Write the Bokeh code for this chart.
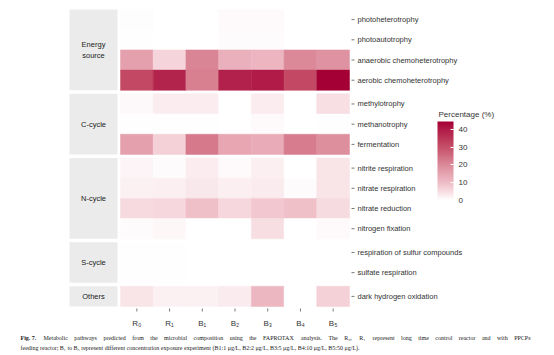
import numpy as np
from bokeh.plotting import figure
from bokeh.models import Range1d, FixedTicker, ColorBar, LinearColorMapper, ColumnDataSource
from bokeh.transform import transform
from bokeh.core.properties import value
from bokeh.embed import file_html
from bokeh.resources import INLINE

# ---------------- data ----------------
samples = ["R\u2080", "R\u2081", "B\u2081", "B\u2082", "B\u2083", "B\u2084", "B\u2085"]
groups = ["Energy\nsource", "C-cycle", "N-cycle", "S-cycle", "Others"]
group_functions = [
    ["photoheterotrophy", "photoautotrophy", "anaerobic chemoheterotrophy", "aerobic chemoheterotrophy"],
    ["methylotrophy", "methanotrophy", "fermentation"],
    ["nitrite respiration", "nitrate respiration", "nitrate reduction", "nitrogen fixation"],
    ["respiration of sulfur compounds", "sulfate respiration"],
    ["dark hydrogen oxidation"],
]

photoheterotrophy = [0.5, 0.0, 0.0, 0.7, 0.7, 0.0, 0.0]
photoautotrophy = [0.2, 0.0, 0.0, 0.6, 0.6, 0.0, 0.0]
anaerobic_chemoheterotrophy = [15.6, 6.3, 21.0, 12.4, 11.4, 20.5, 18.5]
aerobic_chemoheterotrophy = [31.5, 38.5, 22.0, 39.0, 40.0, 31.5, 44.5]
methylotrophy = [1.2, 2.8, 2.8, 0.0, 2.8, 0.0, 4.8]
methanotrophy = [0.2, 0.2, 0.2, 0.0, 0.8, 0.0, 0.2]
fermentation = [15.6, 7.0, 23.0, 14.5, 13.5, 22.5, 19.0]
nitrite_respiration = [1.6, 0.6, 2.8, 1.0, 2.6, 0.0, 4.0]
nitrate_respiration = [2.4, 2.6, 3.6, 2.6, 3.0, 0.6, 4.0]
nitrate_reduction = [5.7, 6.0, 9.4, 6.0, 8.5, 9.4, 5.4]
nitrogen_fixation = [0.6, 1.3, 0.0, 0.0, 5.0, 0.0, 0.7]
respiration_of_sulfur_compounds = [0.3, 0.3, 0.0, 0.0, 0.0, 0.0, 0.0]
sulfate_respiration = [0.3, 0.3, 0.0, 0.0, 0.0, 0.0, 0.0]
dark_hydrogen_oxidation = [4.0, 2.4, 2.4, 3.0, 11.0, 0.0, 7.0]

values_by_function = {
    "photoheterotrophy": photoheterotrophy,
    "photoautotrophy": photoautotrophy,
    "anaerobic chemoheterotrophy": anaerobic_chemoheterotrophy,
    "aerobic chemoheterotrophy": aerobic_chemoheterotrophy,
    "methylotrophy": methylotrophy,
    "methanotrophy": methanotrophy,
    "fermentation": fermentation,
    "nitrite respiration": nitrite_respiration,
    "nitrate respiration": nitrate_respiration,
    "nitrate reduction": nitrate_reduction,
    "nitrogen fixation": nitrogen_fixation,
    "respiration of sulfur compounds": respiration_of_sulfur_compounds,
    "sulfate respiration": sulfate_respiration,
    "dark hydrogen oxidation": dark_hydrogen_oxidation,
}

colorbar_ticks = [0, 10, 20, 30, 40]
legend_title = "Percentage (%)"
caption_bold = "Fig. 7."
caption_line1 = ("Metabolic pathways predicted from the microbial composition using the FAPROTAX analysis. "
                 "The R\u2080, R\u2081 represent long time control reactor and with PPCPs")
caption_line2 = ("feeding reactor; B\u2081 to B\u2085 represent different concentration exposure experiment "
                 "(B1:1 \u03bcg/L, B2:2 \u03bcg/L, B3:5 \u03bcg/L, B4:10 \u03bcg/L, B5:50 \u03bcg/L).")

# ---------------- palette (white -> crimson, stops as fraction of range) ----------------
stops = [(0.0, "#ffffff"), (0.225, "#efbcc6"), (0.45, "#dc8a9a"),
         (0.675, "#c65068"), (0.9, "#b01c48"), (1.0, "#a50035")]

def _rgb(h):
    return np.array([int(h[i:i + 2], 16) for i in (1, 3, 5)], dtype=float)

palette = []
for t in np.linspace(0, 1, 256):
    for (t0, c0), (t1, c1) in zip(stops[:-1], stops[1:]):
        if t0 <= t <= t1:
            f = (t - t0) / (t1 - t0)
            c = _rgb(c0) + (_rgb(c1) - _rgb(c0)) * f
            palette.append("#%02x%02x%02x" % tuple(int(round(v)) for v in c))
            break

all_vals = [v for vals in values_by_function.values() for v in vals]
mapper = LinearColorMapper(palette=palette, low=min(all_vals), high=max(all_vals))

# ---------------- geometry ----------------
GAP = 0.175
xs, ys, vs = [], [], []
row_centers, row_names = [], []
panel_spans = []
row = 0
for gi, funcs in enumerate(group_functions):
    top = row + GAP * gi
    for fn in funcs:
        yc = row + GAP * gi + 0.5
        row_centers.append(yc)
        row_names.append(fn)
        for ci, v in enumerate(values_by_function[fn]):
            xs.append(ci)
            ys.append(yc)
            vs.append(v)
        row += 1
    panel_spans.append((top, row + GAP * gi))
total_h = row + GAP * (len(group_functions) - 1)

W, H = 554, 355
HEAT_L, HEAT_R, HEAT_T, HEAT_B = 120, 349, 9, 306
PX = (HEAT_R - HEAT_L) / len(samples)      # pixels per column
PY = (HEAT_B - HEAT_T) / total_h           # pixels per row unit

def dx(px):
    return -0.5 + (px - HEAT_L) / PX

def dy(py):
    return (py - HEAT_T) / PY

p = figure(width=W, height=H, output_backend="svg", toolbar_location=None,
           x_range=Range1d(dx(0), dx(W)), y_range=Range1d(dy(H), dy(0)),
           min_border=0, x_axis_location=None, y_axis_location=None)
p.outline_line_color = None
p.grid.visible = False
p.background_fill_color = "white"
p.border_fill_color = "white"

src = ColumnDataSource(dict(x=xs, y=ys, v=vs))
p.rect(x="x", y="y", width=1, height=1, source=src,
       fill_color=transform("v", mapper), line_color=transform("v", mapper), line_width=0.5)

FONT = value("Liberation Sans")

# facet strips
sl, sr = dx(69), dx(117)
strip_src = ColumnDataSource(dict(
    x=[(sl + sr) / 2] * len(groups),
    y=[(a + b) / 2 for a, b in panel_spans],
    h=[b - a for a, b in panel_spans],
    t=groups))
p.rect(x="x", y="y", width=sr - sl, height="h", source=strip_src, fill_color="#ebebeb", line_color=None)
p.text(x="x", y="y", text="t", source=strip_src, text_align="center", text_baseline="middle",
       text_font=FONT, text_font_size="7.5px", text_color="#1a1a1a", text_line_height=1.25)

# right row labels with tick marks
n = len(row_names)
lab_src = ColumnDataSource(dict(y=row_centers, t=row_names,
                                x0=[dx(351)] * n, x1=[dx(354)] * n, xt=[dx(357)] * n))
p.segment(x0="x0", y0="y", x1="x1", y1="y", source=lab_src, line_color="#555555", line_width=0.8)
p.text(x="xt", y="y", text="t", source=lab_src, text_align="left", text_baseline="middle",
       text_font=FONT, text_font_size="7.5px", text_color="#333333")

# bottom sample ticks and labels
m = len(samples)
xl_src = ColumnDataSource(dict(x=list(range(m)), t=samples,
                               y0=[dy(308)] * m, y1=[dy(311)] * m, yt=[dy(322.5)] * m))
p.segment(x0="x", y0="y0", x1="x", y1="y1", source=xl_src, line_color="#555555", line_width=0.8)
p.text(x="x", y="yt", text="t", source=xl_src, text_align="center", text_baseline="middle",
       text_font=FONT, text_font_size="8px", text_color="#333333")

# colorbar
p.text(x=[dx(438)], y=[dy(114)], text=[legend_title], text_align="left", text_baseline="middle",
       text_font=FONT, text_font_size="8px", text_color="#333333")
cb = ColorBar(color_mapper=mapper, orientation="vertical", location=(437, H - 200), width=16, height=79,
              padding=0, ticker=FixedTicker(ticks=colorbar_ticks),
              major_label_text_font_size="8px", major_label_text_font="Liberation Sans",
              major_label_text_color="#333333", label_standoff=5,
              major_tick_line_color="white", major_tick_in=3, major_tick_out=0,
              bar_line_color=None, border_line_color=None, background_fill_alpha=0)
p.add_layout(cb, "center")

# caption (Liberation Serif is metric compatible with Times)
TIMES = {' ': 250, 'a': 444, 'b': 500, 'c': 444, 'd': 500, 'e': 444, 'f': 333, 'g': 500, 'h': 500,
         'i': 278, 'j': 278, 'k': 500, 'l': 278, 'm': 778, 'n': 500, 'o': 500, 'p': 500, 'q': 500,
         'r': 333, 's': 389, 't': 278, 'u': 500, 'v': 500, 'w': 722, 'x': 500, 'y': 500, 'z': 444,
         'A': 722, 'B': 667, 'C': 667, 'D': 722, 'E': 611, 'F': 556, 'G': 722, 'H': 722, 'I': 333,
         'L': 611, 'M': 889, 'N': 722, 'O': 722, 'P': 556, 'R': 667, 'S': 556, 'T': 611, 'X': 722,
         '.': 250, ',': 250, ';': 278, ':': 278, '(': 333, ')': 333, '/': 278, '-': 333}

def em(s):
    return sum(TIMES.get(ch, 500) for ch in s) / 1000.0

CAP_FS = 6.0
words = caption_line1.split(" ")
wpx = [em(w) * CAP_FS for w in words]
L1_START, L1_END = 43, 530
gap = (L1_END - L1_START - sum(wpx)) / (len(words) - 1)
wx, cur = [], L1_START
for w in wpx:
    wx.append(dx(cur))
    cur += w + gap
cap_src = ColumnDataSource(dict(x=wx, y=[dy(337)] * len(words), t=words))
p.text(x="x", y="y", text="t", source=cap_src, text_align="left", text_baseline="middle",
       text_font=value("Liberation Serif"), text_font_size="%.1fpx" % CAP_FS, text_color="#1a1a1a")
p.text(x=[dx(20)], y=[dy(337)], text=[caption_bold], text_align="left", text_baseline="middle",
       text_font=value("Liberation Serif"), text_font_style="bold", text_font_size="%.1fpx" % CAP_FS,
       text_color="#1a1a1a")
p.text(x=[dx(20)], y=[dy(347)], text=[caption_line2], text_align="left", text_baseline="middle",
       text_font=value("Liberation Serif"), text_font_size="%.1fpx" % CAP_FS, text_color="#1a1a1a")

open("out.html", "w").write(file_html(p, INLINE))
